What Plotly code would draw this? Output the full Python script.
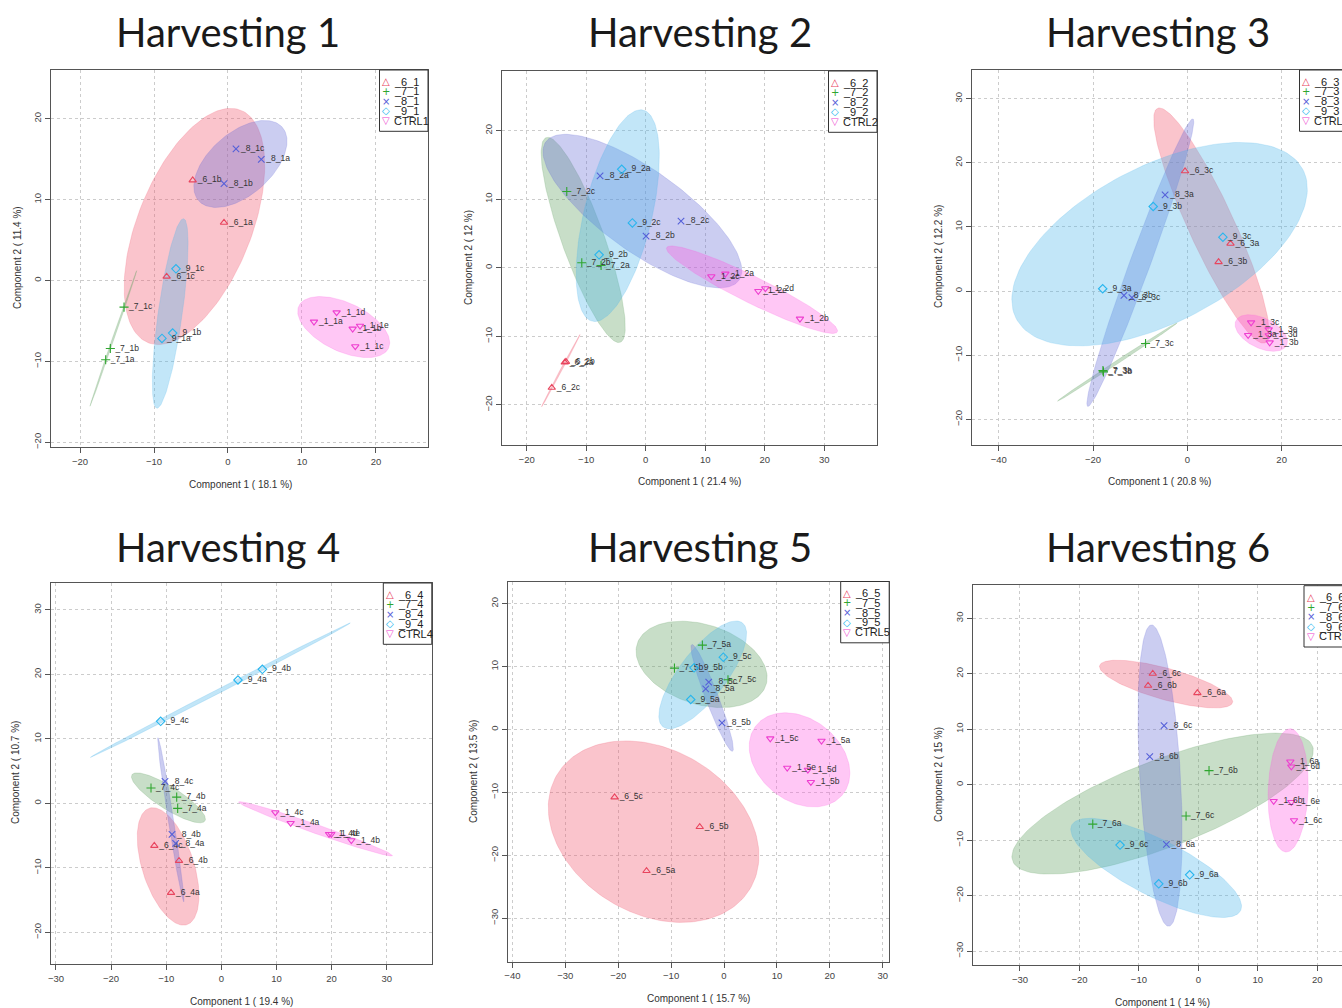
import numpy as np
import plotly.graph_objects as go

# ---------------- data ----------------
GROUP_INDEX = [0, 0, 0, 1, 1, 1, 2, 2, 2, 3, 3, 3, 4, 4, 4, 4, 4]

H1_NAMES = ["_6_1", "_7_1", "_8_1", "_9_1", "CTRL1"]
H1_LABELS = ["_6_1a", "_6_1b", "_6_1c", "_7_1a", "_7_1b", "_7_1c", "_8_1a", "_8_1b", "_8_1c",
             "_9_1a", "_9_1b", "_9_1c", "_1_1a", "_1_1b", "_1_1c", "_1_1d", "_1_1e"]
H1_X = [-0.54, -4.77, -8.29, -16.53, -15.9, -14.05, 4.5, -0.54, 1.08,
        -8.92, -7.48, -7.03, 11.62, 16.85, 17.2, 14.68, 17.84]
H1_Y = [7.16, 12.39, 0.49, -9.79, -8.4, -3.29, 14.98, 11.98, 16.26,
        -7.16, -6.5, 1.44, -5.1, -5.97, -8.15, -3.95, -5.6]

H2_NAMES = ["_6_2", "_7_2", "_8_2", "_9_2", "CTRL2"]
H2_LABELS = ["_6_2a", "_6_2b", "_6_2c", "_7_2a", "_7_2b", "_7_2c", "_8_2a", "_8_2b", "_8_2c",
             "_9_2a", "_9_2b", "_9_2c", "_1_2a", "_1_2b", "_1_2c", "_1_2d", "_1_2e"]
H2_X = [-13.6, -13.4, -15.78, -7.5, -10.74, -13.26, -7.67, 0.06, 5.93,
        -4.03, -7.83, -2.24, 13.37, 25.91, 11.02, 20.09, 18.91]
H2_Y = [-13.8, -13.7, -17.48, 0.34, 0.73, 11.12, 13.4, 4.61, 6.8,
        14.37, 1.89, 6.55, -0.87, -7.43, -1.26, -3.01, -3.4]

H3_NAMES = ["_6_3", "_7_3", "_8_3", "_9_3", "CTRL3"]
H3_LABELS = ["_6_3a", "_6_3b", "_6_3c", "_7_3a", "_7_3b", "_7_3c", "_8_3a", "_8_3b", "_8_3c",
             "_9_3a", "_9_3b", "_9_3c", "_1_3a", "_1_3b", "_1_3c", "_1_3d", "_1_3e"]
H3_X = [9.15, 6.62, -0.49, -17.9, -17.8, -8.87, -4.72, -13.45, -11.76,
        -17.96, -7.25, 7.54, 12.89, 17.46, 13.52, 17.25, 17.25]
H3_Y = [7.4, 4.53, 18.7, -12.4, -12.6, -8.18, 15.0, -0.68, -1.04,
        0.36, 13.18, 8.39, -6.88, -8.02, -4.9, -6.9, -5.99]

H4_NAMES = ["_6_4", "_7_4", "_8_4", "_9_4", "CTRL4"]
H4_LABELS = ["_6_4a", "_6_4b", "_6_4c", "_7_4a", "_7_4b", "_7_4c", "_8_4a", "_8_4b", "_8_4c",
             "_9_4a", "_9_4b", "_9_4c", "_1_4a", "_1_4b", "_1_4c", "_1_4d", "_1_4e"]
H4_X = [-9.13, -7.68, -12.16, -7.92, -8.1, -12.76, -8.29, -8.95, -10.22,
        3.02, 7.44, -11.01, 12.58, 23.59, 9.8, 19.54, 19.96]
H4_Y = [-13.86, -8.9, -6.57, -0.78, 0.98, 2.38, -6.21, -4.81, 3.41,
        19.14, 20.8, 12.73, -3.05, -5.74, -1.4, -4.76, -4.76]

H5_NAMES = ["_6_5", "_7_5", "_8_5", "_9_5", "CTRL5"]
H5_LABELS = ["_6_5a", "_6_5b", "_6_5c", "_7_5a", "_7_5b", "_7_5c", "_8_5a", "_8_5b", "_8_5c",
             "_9_5a", "_9_5b", "_9_5c", "_1_5a", "_1_5b", "_1_5c", "_1_5d", "_1_5e"]
H5_X = [-14.65, -4.59, -20.69, -4.09, -9.37, 0.75, -3.46, -0.38, -2.89,
        -6.29, -5.66, -0.13, 18.43, 16.42, 8.74, 15.85, 11.95]
H5_Y = [-22.47, -15.47, -10.76, 13.41, 9.75, 7.9, 6.47, 1.06, 7.53,
        4.77, 9.8, 11.5, -1.8, -8.37, -1.43, -6.41, -6.1]

H6_NAMES = ["_6_6", "_7_6", "_8_6", "_9_6", "CTRL6"]
H6_LABELS = ["_6_6a", "_6_6b", "_6_6c", "_7_6a", "_7_6b", "_7_6c", "_8_6a", "_8_6b", "_8_6c",
             "_9_6a", "_9_6b", "_9_6c", "_1_6a", "_1_6b", "_1_6c", "_1_6d", "_1_6e"]
H6_X = [-0.17, -8.46, -7.67, -17.76, 1.79, -2.07, -5.38, -8.18, -5.77,
        -1.46, -6.67, -13.17, 15.46, 12.66, 16.08, 15.63, 15.63]
H6_Y = [16.54, 17.86, 20.02, -7.1, 2.53, -5.65, -10.76, 5.05, 10.64,
        -16.24, -17.86, -10.88, 4.15, -2.95, -6.43, 3.25, -3.13]

TITLES = ["Harvesting 1", "Harvesting 2", "Harvesting 3",
          "Harvesting 4", "Harvesting 5", "Harvesting 6"]
X_TITLES = ["Component 1 ( 18.1 %)", "Component 1 ( 21.4 %)", "Component 1 ( 20.8 %)",
            "Component 1 ( 19.4 %)", "Component 1 ( 15.7 %)", "Component 1 ( 14 %)"]
Y_TITLES = ["Component 2 ( 11.4 %)", "Component 2 ( 12 %)", "Component 2 ( 12.2 %)",
            "Component 2 ( 10.7 %)", "Component 2 ( 13.5 %)", "Component 2 ( 15 %)"]

# ---------------- styling / layout ----------------
W, H = 1342, 1008
OFF = 0
MARK_COLORS = ["#E8455E", "#2FA62F", "#5560D8", "#29B6EE", "#EE3FD0"]
FILL_COLORS = ["rgba(240,86,109,0.35)", "rgba(98,161,98,0.35)", "rgba(98,104,212,0.33)",
               "rgba(69,178,235,0.33)", "rgba(255,84,226,0.33)"]
SYMBOLS = ["triangle-up-open", "cross-thin-open", "x-thin-open", "diamond-open", "triangle-down-open"]
LEG_GLYPHS = ["△", "+", "×", "◇", "▽"]
SMALL = "Liberation Sans, Arial, sans-serif"

# page-pixel geometry of each panel
GEOM = [
    dict(px=(51, 428), py=(70, 447), xr=(-23.92, 27.03), yr=(-20.58, 26.02), dx=10,
         title=(228, 32), xt=(240, 484), yt=(17, 258), leg=(379.5, 70), my=True),
    dict(px=(502.3, 876.7), py=(71, 445), xr=(-24.09, 38.8), yr=(-25.84, 28.7), dx=10,
         title=(700, 32), xt=(689, 481), yt=(468, 258), leg=(828.5, 71), my=True),
    dict(px=(972, 1342), py=(70, 445), xr=(-45.68, 32.8), yr=(-24.0, 34.46), dx=20,
         title=(1158, 32), xt=(1159, 481), yt=(938, 257), leg=(1299.5, 70), my=False),
    dict(px=(50.7, 431.7), py=(582.7, 964), xr=(-30.96, 38.17), yr=(-24.91, 34.23), dx=10,
         title=(228, 547), xt=(241, 1001), yt=(15, 773), leg=(383.3, 583), my=True),
    dict(px=(508.3, 889), py=(581.7, 961.7), xr=(-40.78, 31.19), yr=(-36.9, 23.49), dx=10,
         title=(700, 547), xt=(698, 998), yt=(473, 772), leg=(840.7, 581.5), my=True),
    dict(px=(972.7, 1342), py=(585, 965), xr=(-37.95, 24.15), yr=(-32.5, 36.0), dx=10,
         title=(1158, 547), xt=(1162, 1002), yt=(938, 775), leg=(1304, 585.7), my=False),
]

PANEL_DATA = [
    (H1_NAMES, H1_LABELS, H1_X, H1_Y),
    (H2_NAMES, H2_LABELS, H2_X, H2_Y),
    (H3_NAMES, H3_LABELS, H3_X, H3_Y),
    (H4_NAMES, H4_LABELS, H4_X, H4_Y),
    (H5_NAMES, H5_LABELS, H5_X, H5_Y),
    (H6_NAMES, H6_LABELS, H6_X, H6_Y),
]


def fx(px):
    return (px - OFF) / W


def fy(py):
    return 1 - (py - OFF) / H


def conf_ellipse(xs, ys, level=0.95, n=160):
    xs = np.asarray(xs, float)
    ys = np.asarray(ys, float)
    cov = np.cov(np.vstack([xs, ys]))
    vals, vecs = np.linalg.eigh(cov)
    vals = np.clip(vals, 0, None)
    t = np.sqrt(-2 * np.log(1 - level))  # sqrt(chi2_2(level))
    th = np.linspace(0, 2 * np.pi, n)
    circ = np.vstack([np.cos(th), np.sin(th)])
    pts = t * (vecs @ (np.sqrt(vals)[:, None] * circ))
    return xs.mean() + pts[0], ys.mean() + pts[1]


fig = go.Figure()
annotations = []
shapes = []
layout_axes = {}

for i, ((names, labels, xs, ys), g) in enumerate(zip(PANEL_DATA, GEOM), start=1):
    xa = "x" if i == 1 else f"x{i}"
    ya = "y" if i == 1 else f"y{i}"
    gidx = np.array(GROUP_INDEX)
    xs = np.array(xs)
    ys = np.array(ys)
    labels = np.array(labels)

    for k in range(5):
        m = gidx == k
        ex, ey = conf_ellipse(xs[m], ys[m])
        fig.add_trace(go.Scatter(x=ex, y=ey, mode="lines", fill="toself",
                                 fillcolor=FILL_COLORS[k], line=dict(width=0.6, color=FILL_COLORS[k]),
                                 hoverinfo="skip", showlegend=False, xaxis=xa, yaxis=ya))
    for k in range(5):
        m = gidx == k
        fig.add_trace(go.Scatter(x=xs[m], y=ys[m], mode="markers+text", text=labels[m],
                                 textposition="middle right",
                                 textfont=dict(family=SMALL, size=8.5, color="#333333"),
                                 marker=dict(symbol=SYMBOLS[k], size=6.5, color=MARK_COLORS[k],
                                             line=dict(width=1.1, color=MARK_COLORS[k])),
                                 name=names[k], showlegend=False, xaxis=xa, yaxis=ya))

    axis_common = dict(showline=True, linecolor="#555555", linewidth=1.2, ticks="outside",
                       ticklen=5, tickcolor="#555555", tickwidth=1,
                       tickfont=dict(family=SMALL, size=9.5, color="#444444"),
                       showgrid=True, gridcolor="#cccccc", griddash="dot", gridwidth=1,
                       zeroline=False, tick0=0, fixedrange=True)
    layout_axes["xaxis" if i == 1 else f"xaxis{i}"] = dict(
        axis_common, domain=[fx(g["px"][0]), min(1.0, fx(g["px"][1]))], range=list(g["xr"]),
        dtick=g["dx"], anchor=ya, mirror=True)
    layout_axes["yaxis" if i == 1 else f"yaxis{i}"] = dict(
        axis_common, domain=[fy(g["py"][1]), fy(g["py"][0])], range=list(g["yr"]),
        dtick=10, anchor=xa, mirror=g["my"], tickangle=-90)

    annotations.append(dict(text=TITLES[i - 1], x=fx(g["title"][0]), y=fy(g["title"][1]),
                            xref="paper", yref="paper", xanchor="center", yanchor="middle",
                            showarrow=False, font=dict(family="Lato, Open Sans, sans-serif",
                                                       size=40, color="#1a1a1a")))
    annotations.append(dict(text=X_TITLES[i - 1], x=fx(g["xt"][0]), y=fy(g["xt"][1]),
                            xref="paper", yref="paper", xanchor="center", yanchor="middle",
                            showarrow=False, font=dict(family=SMALL, size=10, color="#333333")))
    annotations.append(dict(text=Y_TITLES[i - 1], x=fx(g["yt"][0]), y=fy(g["yt"][1]),
                            xref="paper", yref="paper", xanchor="center", yanchor="middle",
                            textangle=-90, showarrow=False,
                            font=dict(family=SMALL, size=10, color="#333333")))

    lx, ly = g["leg"]
    shapes.append(dict(type="rect", xref="paper", yref="paper", layer="above",
                       x0=fx(lx), x1=fx(lx + 48.5), y0=fy(ly + 61.3), y1=fy(ly),
                       line=dict(color="#333333", width=1), fillcolor="white"))
    for k in range(5):
        ry = ly + 11.6 + 9.75 * k
        annotations.append(dict(text=LEG_GLYPHS[k], x=fx(lx + 6.5), y=fy(ry), xref="paper",
                                yref="paper", xanchor="center", yanchor="middle", showarrow=False,
                                font=dict(family="DejaVu Sans", size=10, color=MARK_COLORS[k])))
        annotations.append(dict(text=names[k], x=fx(lx + 12.5), y=fy(ry), xref="paper",
                                yref="paper", xanchor="left", yanchor="middle", showarrow=False,
                                font=dict(family=SMALL, size=11, color="#222222")))

fig.update_layout(
    width=W, height=H,
    margin=dict(l=0, r=0, t=0, b=0, pad=0, autoexpand=False),
    paper_bgcolor="white", plot_bgcolor="white",
    showlegend=False,
    annotations=annotations, shapes=shapes,
    **layout_axes,
)

# remove the default page margin so the 1342x1008 figure fills the window exactly
fig.write_html("out.html",
               config={"displayModeBar": False, "staticPlot": True},
               post_script="document.body.style.margin='0';document.body.style.overflow='hidden';")
